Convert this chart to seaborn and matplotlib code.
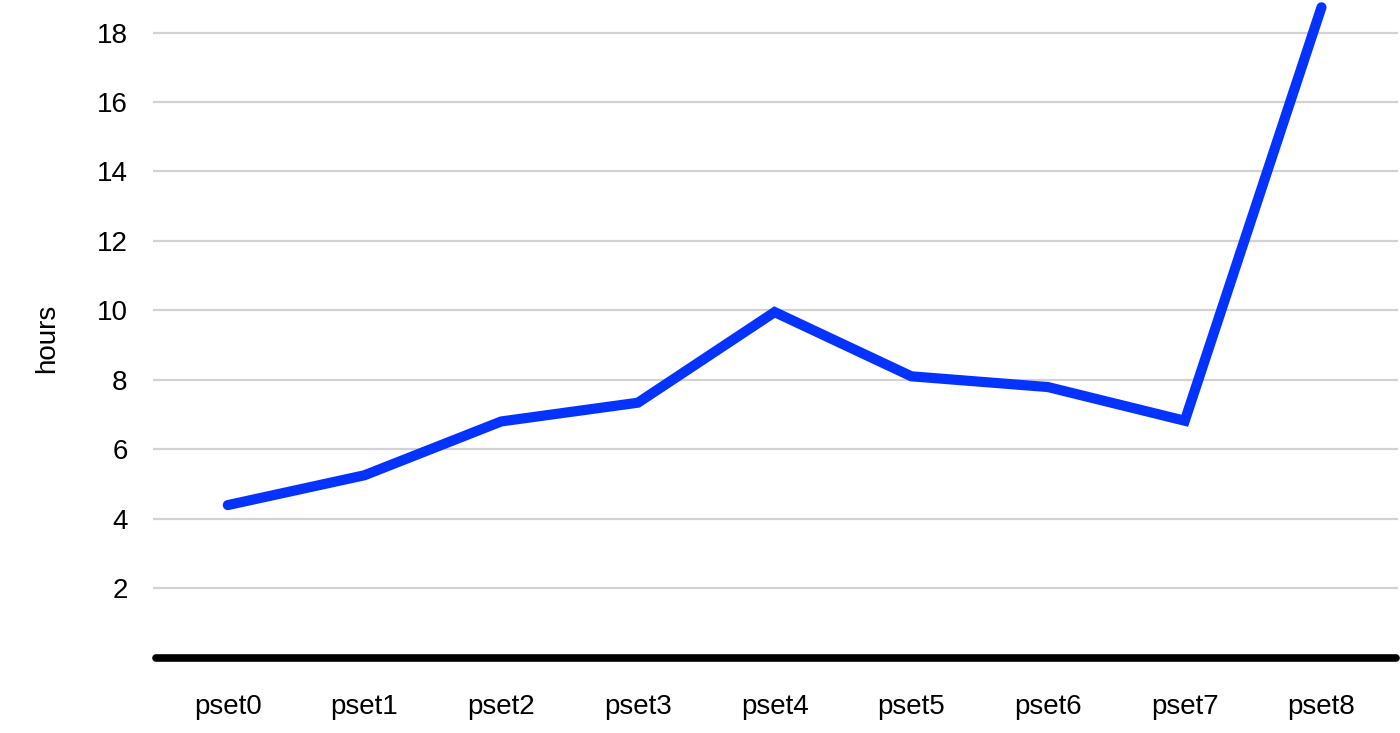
import pandas as pd
import matplotlib
matplotlib.use("Agg")
import matplotlib.pyplot as plt
import seaborn as sns

# Data
psets = ["pset0", "pset1", "pset2", "pset3", "pset4", "pset5", "pset6", "pset7", "pset8"]
hours = [4.39, 5.25, 6.80, 7.34, 9.95, 8.10, 7.79, 6.82, 18.73]
y_ticks = [2, 4, 6, 8, 10, 12, 14, 16, 18]

df = pd.DataFrame({"pset": psets, "hours": hours})

sns.set_style("white")
plt.rcParams["font.family"] = ["Liberation Sans", "DejaVu Sans"]
plt.rcParams["font.size"] = 20
plt.rcParams["text.color"] = "black"
plt.rcParams["axes.labelcolor"] = "black"
plt.rcParams["xtick.color"] = "black"
plt.rcParams["ytick.color"] = "black"

fig = plt.figure(figsize=(14, 7.33), dpi=100)
ax = fig.add_axes([0.109, 0.103, 0.8896, 0.897])

# Gridlines
for t in y_ticks:
    ax.axhline(t, color="#d2d2d2", linewidth=1.6, zorder=0)

sns.lineplot(data=df, x="pset", y="hours", ax=ax, color="#0433ff",
             linewidth=7.3, solid_capstyle="round", solid_joinstyle="miter",
             clip_on=False, zorder=3)

# Thick baseline at zero
ax.axhline(0, xmin=0.003, xmax=0.998, color="black", linewidth=5.5,
           solid_capstyle="round", clip_on=False, zorder=2)

ax.set_xlim(-0.55, 8.56)
ax.set_ylim(0, 18.94)
ax.set_yticks(y_ticks)
ax.set_xlabel("")
ax.set_ylabel("hours", fontsize=20)
ax.yaxis.set_label_coords(-0.074, 0.486)
ax.tick_params(axis="y", length=0, pad=18, labelsize=20)
ax.tick_params(axis="x", length=0, pad=26, labelsize=20)
for s in ax.spines.values():
    s.set_visible(False)

fig.savefig("out.png", dpi=100)
